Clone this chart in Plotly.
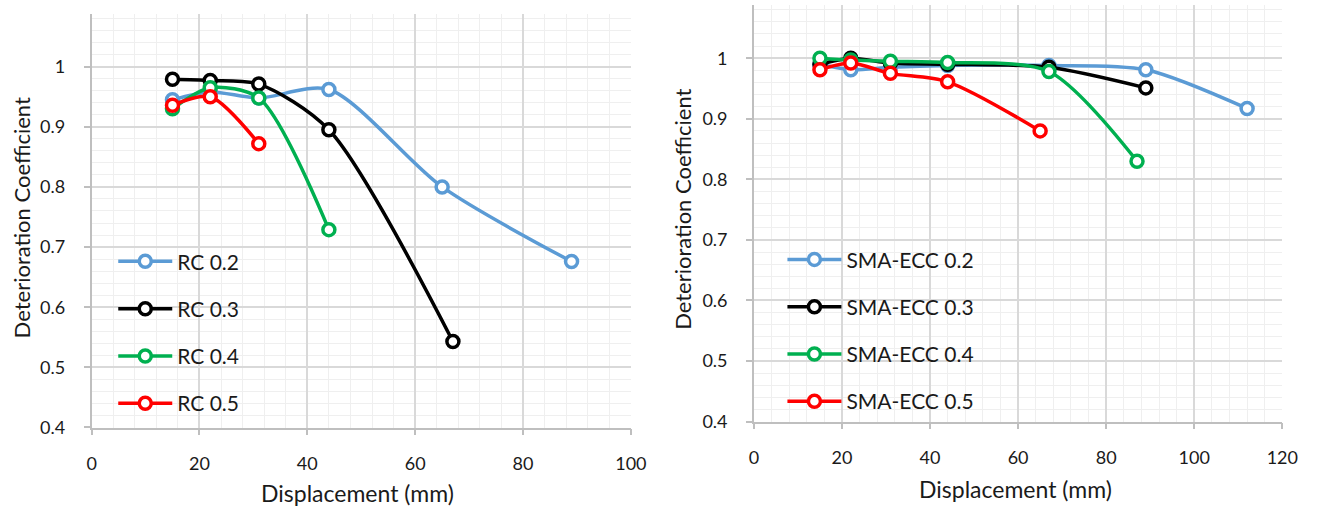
import plotly.graph_objects as go

# ---------------- data ----------------
rc_names = ["RC 0.2", "RC 0.3", "RC 0.4", "RC 0.5"]
rc_x = [
    [15, 22, 31, 44, 65, 89],
    [15, 22, 31, 44, 67],
    [15, 22, 31, 44],
    [15, 22, 31],
]
rc_y = [
    [0.945, 0.958, 0.948, 0.962, 0.800, 0.676],
    [0.979, 0.977, 0.971, 0.895, 0.543],
    [0.930, 0.965, 0.948, 0.729],
    [0.936, 0.950, 0.872],
]

sma_names = ["SMA-ECC 0.2", "SMA-ECC 0.3", "SMA-ECC 0.4", "SMA-ECC 0.5"]
sma_x = [
    [15, 22, 31, 44, 67, 89, 112],
    [15, 22, 31, 44, 67, 89],
    [15, 22, 31, 44, 67, 87],
    [15, 22, 31, 44, 65],
]
sma_y = [
    [0.990, 0.981, 0.985, 0.988, 0.988, 0.981, 0.917],
    [0.990, 1.000, 0.992, 0.990, 0.985, 0.951],
    [1.000, 0.997, 0.995, 0.993, 0.978, 0.830],
    [0.981, 0.992, 0.975, 0.961, 0.880],
]

colors = ["#5b9bd5", "#000000", "#00b050", "#ff0000"]

x_title = "Displacement (mm)"
y_title = "Deterioration Coefficient"

FONT = "Lato"
TXT = "#1a1a1a"
W, H = 1319, 513

fig = go.Figure()

for i in range(4):
    fig.add_trace(go.Scatter(
        x=rc_x[i], y=rc_y[i], name=rc_names[i], mode="lines+markers",
        line=dict(color=colors[i], width=3.5, shape="spline", smoothing=0.8),
        marker=dict(symbol="circle", size=12, color="white",
                    line=dict(color=colors[i], width=3.5)),
        xaxis="x", yaxis="y", legend="legend", legendgroup="a%d" % i,
    ))
for i in range(4):
    fig.add_trace(go.Scatter(
        x=sma_x[i], y=sma_y[i], name=sma_names[i], mode="lines+markers",
        line=dict(color=colors[i], width=3.5, shape="spline", smoothing=0.8),
        marker=dict(symbol="circle", size=12, color="white",
                    line=dict(color=colors[i], width=3.5)),
        xaxis="x2", yaxis="y2", legend="legend2", legendgroup="b%d" % i,
    ))

grid = "#d9d9d9"
minor_grid = "#efefef"

def xax(domain, rng, anchor):
    return dict(
        domain=domain, range=rng, anchor=anchor, dtick=20, tick0=0,
        showgrid=True, gridcolor=grid, gridwidth=1.5,
        minor=dict(dtick=4, showgrid=True, gridcolor=minor_grid, gridwidth=1.2),
        showline=True, linecolor="#bfbfbf", linewidth=1.5,
        ticks="outside", ticklen=6, tickcolor="#bfbfbf", tickwidth=1.5,
        tickfont=dict(family=FONT, size=18, color=TXT),
        ticklabelstandoff=13,
        zeroline=False, fixedrange=True,
    )

def yax(domain, anchor):
    return dict(
        domain=domain, range=[0.4, 1.088], anchor=anchor, dtick=0.1, tick0=0,
        showgrid=True, gridcolor=grid, gridwidth=1.5,
        minor=dict(dtick=0.02, showgrid=True, gridcolor=minor_grid, gridwidth=1.2),
        showline=True, linecolor="#bfbfbf", linewidth=1.5,
        ticks="outside", ticklen=6, tickcolor="#bfbfbf", tickwidth=1.5,
        tickfont=dict(family=FONT, size=18, color=TXT),
        ticklabelstandoff=15,
        zeroline=False, fixedrange=True,
    )

legend_common = dict(
    xanchor="left", yanchor="top", bgcolor="rgba(0,0,0,0)",
    tracegroupgap=17, traceorder="grouped",
    font=dict(family=FONT, size=21, color=TXT), itemwidth=54,
)

fig.update_layout(
    width=W, height=H,
    margin=dict(l=0, r=0, t=0, b=0),
    paper_bgcolor="white", plot_bgcolor="white",
    font=dict(family=FONT, color=TXT),
    xaxis=xax([88 / W, 636 / W], [0, 100], "y"),
    yaxis=yax([1 - 436 / H, 1 - 14 / H], "x"),
    xaxis2=xax([761 / W, 1298 / W], [0, 120], "y2"),
    yaxis2=yax([1 - 430 / H, 1 - 5 / H], "x2"),
    legend=dict(x=110 / W, y=1 - 246 / H, **legend_common),
    legend2=dict(x=790 / W, y=1 - 244 / H, **legend_common),
    annotations=[
        dict(text=x_title, x=358 / W, y=1 - 503 / H, xref="paper", yref="paper",
             xanchor="center", yanchor="middle",
             showarrow=False, font=dict(family=FONT, size=23, color=TXT)),
        dict(text=x_title, x=1027 / W, y=1 - 499 / H, xref="paper", yref="paper",
             xanchor="center", yanchor="middle",
             showarrow=False, font=dict(family=FONT, size=23, color=TXT)),
        dict(text=y_title, x=17 / W, y=1 - 222 / H, xref="paper", yref="paper",
             xanchor="center", yanchor="middle", textangle=-90, showarrow=False,
             font=dict(family=FONT, size=22, color=TXT)),
        dict(text=y_title, x=689 / W, y=1 - 214 / H, xref="paper", yref="paper",
             xanchor="center", yanchor="middle", textangle=-90, showarrow=False,
             font=dict(family=FONT, size=22, color=TXT)),
    ],
    showlegend=True,
)

fig.write_html("out.html")
